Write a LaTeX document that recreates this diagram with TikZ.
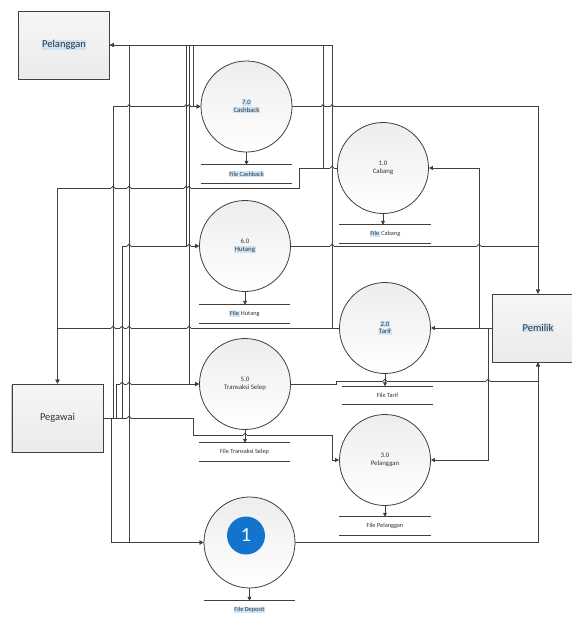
\documentclass[tikz,border=0pt]{standalone}
\usepackage{fontspec}
\setmainfont{Carlito}
\usetikzlibrary{arrows.meta,shadows}
\definecolor{ln}{HTML}{404040}
\definecolor{hl}{HTML}{CCE4F7}
\definecolor{blu}{HTML}{1274CC}
\definecolor{txt}{HTML}{333333}
\newcommand\hlb[1]{{\setlength{\fboxsep}{0.6pt}\colorbox{hl}{#1}}}
\newcommand\hp[3][1.8]{%
  \fill[white] ({#2-#1-0.3},{#3-0.9}) rectangle ({#2+#1+0.3},{#3+0.9});
  \draw[line] (#2,{#3-1.3}) -- (#2,{#3+1.3});
  \draw[line] ({#2-#1},#3) arc[start angle=180,end angle=360,radius=#1];}
\begin{document}
\begin{tikzpicture}[x=1pt,y=-1pt,
  line/.style={draw=ln,line width=0.8pt},
  flow/.style={line,-{Triangle[length=4pt,width=4pt]}},
  proc/.style={circle,draw=ln,line width=0.8pt,minimum size=91pt,inner sep=0pt,
    top color=gray!14,bottom color=white,font=\fontsize{6.8}{7.6}\selectfont,text=txt,align=center},
  ent/.style={rectangle,draw=ln,line width=0.8pt,minimum width=91pt,minimum height=68pt,
    top color=gray!7,bottom color=gray!16,font=\fontsize{10.5}{12}\selectfont,text=txt,
    drop shadow={shadow xshift=-1pt,shadow yshift=-1pt,fill=gray!70,opacity=0.6}},
  store/.style={minimum width=91pt,minimum height=18pt,inner sep=0pt,font=\fontsize{6.3}{7}\selectfont,text=txt}
]
\useasboundingbox (0,0) rectangle (572,619);
\fill[white] (0,0) rectangle (572,619);

% entities
\node[ent] (pel) at (64,45) {\hlb{Pelanggan}};
\node[ent] (peg) at (57.5,418) {Pegawai};
\node[ent] (pem) at (538,328) {\hlb{Pemilik}};

% processes
\node[proc] (p7) at (246.5,106.5) {\hlb{7.0}\\\hlb{Cashback}};
\node[proc] (p1) at (383,168) {1.0\\Cabang};
\node[proc] (p6) at (245,246) {6.0\\\hlb{Hutang}};
\node[proc] (p2) at (385,328) {\hlb{2.0}\\\hlb{Tarif}};
\node[proc] (p5) at (245,384) {5.0\\Transaksi Selep};
\node[proc] (p3) at (385,460) {3.0\\Pelanggan};
\node[proc] (pd) at (249.5,542.5) {};
\node[circle,fill=blu,minimum size=38pt,inner sep=0pt,text=white,font=\fontsize{20}{20}\selectfont] (one) at (246,535.5) {1};

% stores
\node[store] (s7) at (246.5,174) {\hlb{File Cashback}};
\node[store] (s1) at (385,234) {\hlb{File} Cabang};
\node[store] (s6) at (244.5,314) {\hlb{File} Hutang};
\node[store] (s2) at (387.5,395.5) {File Tarif};
\node[store] (s5) at (244.5,452) {File Transaksi Selep};
\node[store] (s3) at (385,526) {File Pelanggan};
\node[store] (sd) at (249.5,610) {\hlb{File Deposit}};
\foreach \s in {s7,s1,s6,s2,s5,s3}
  \draw[line] (\s.north west) -- (\s.north east) (\s.south west) -- (\s.south east);
\draw[line] (sd.north west) -- (sd.north east);

% process -> store
\draw[flow] (p7.south) -- (p7.south |- s7.north);
\draw[flow] (p1.south) -- (p1.south |- s1.north);
\draw[flow] (p6.south) -- (p6.south |- s6.north);
\draw[flow] (p2.south) -- (p2.south |- s2.north);
\draw[flow] (p5.south) -- (p5.south |- s5.north);
\draw[flow] (p3.south) -- (p3.south |- s3.north);
\draw[flow] (pd.south) -- (pd.south |- sd.north);

% Tarif -> Pelanggan, Pegawai
\draw[flow] (p2.west) -- (332,328) -- (332,45) -- (pel.east);
\draw[flow] (p2.west) -- (57.5,328) -- (peg.north);
% Cabang -> Pelanggan, Pegawai
\draw[flow] (p1.west) -- (323,168) -- (323,45) -- (pel.east);
\draw[flow] (p1.west) -- (299,168) -- (299,188) -- (57.5,188) -- (peg.north);
% Pegawai -> processes
\draw[flow] (peg.east) -- (113,418) -- (113,106.5) -- (p7.west);
\draw[flow] (peg.east) -- (116,418) -- (116,384) -- (p5.west);
\draw[flow] (peg.east) -- (122,418) -- (122,246) -- (p6.west);
\draw[flow] (peg.east) -- (111,418) -- (111,542.5) -- (pd.west);
\draw[flow] (peg.east) -- (193,418) -- (193,435) -- (332,435) -- (332,460) -- (p3.west);
% Pelanggan line verticals
\draw[flow] (pel.east) -- (129,45) -- (129,542.5) -- (pd.west);
\draw[flow] (pel.east) -- (186,45) -- (186,246) -- (p6.west);
\draw[flow] (pel.east) -- (189,45) -- (189,384) -- (p5.west);
\draw[flow] (pel.east) -- (193,45) -- (193,106.5) -- (p7.west);
% to Pemilik
\draw[flow] (p7.east) -- (538,106.5) -- (pem.north);
\draw[flow] (p6.east) -- (538,246) -- (pem.north);
\draw[flow] (p5.east) -- (336,384) -- (336,381) -- (538,381) -- (pem.south);
\draw[flow] (pd.east) -- (538,542.5) -- (pem.south);
% from Pemilik
\draw[flow] (pem.west) -- (p2.east);
\draw[flow] (pem.west) -- (479,328) -- (479,168) -- (p1.east);
\draw[flow] (pem.west) -- (488,328) -- (488,460) -- (p3.east);

% line hops
\foreach \x in {129,186,189,323,332} {\hp{\x}{106.5}}
\hp{332}{168}
\foreach \x in {113,129,186,189} {\hp{\x}{188}}
\foreach \x in {129,189,332,479} {\hp{\x}{246}}
\foreach \x in {113,122,129,189} {\hp{\x}{328}}
\foreach \x in {122,129} {\hp{\x}{384}}
\foreach \x in {385,488} {\hp{\x}{381}}
\hp{129}{418}
\hp{245}{435}
\end{tikzpicture}
\end{document}
